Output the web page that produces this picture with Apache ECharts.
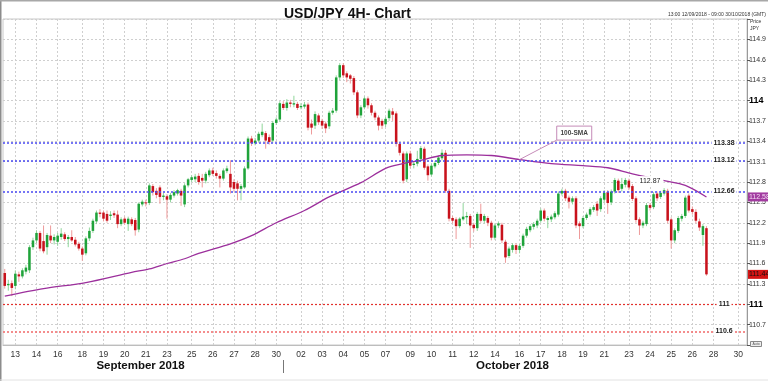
<!DOCTYPE html>
<html><head><meta charset="utf-8">
<script src="https://cdn.jsdelivr.net/npm/echarts@6/dist/echarts.min.js"></script>
<style>html,body{margin:0;padding:0;background:#fff}#c{width:768px;height:381px}</style>
</head><body><div id="c"></div>
<script>
// ---- axis schedule: trading days and number of 4H bars in each ----
const DAYS = [['09-12',3],['09-13',6],['09-14',6],['09-16',1],['09-17',6],['09-18',6],['09-19',6],['09-20',6],['09-21',6],
  ['09-23',1],['09-24',6],['09-25',6],['09-26',6],['09-27',6],['09-28',6],['09-30',1],
  ['10-01',6],['10-02',6],['10-03',6],['10-04',6],['10-05',6],['10-07',1],['10-08',6],['10-09',6],['10-10',6],['10-11',6],['10-12',6],
  ['10-14',1],['10-15',6],['10-16',6],['10-17',6],['10-18',6],['10-19',6],['10-21',1],['10-22',6],['10-23',6],['10-24',6],['10-25',6],['10-26',6],
  ['10-28',1],['10-29',6],['10-30',3]];
const HIDDEN_TICK_DAYS = ['09-12','09-17','09-24','10-01','10-08','10-15','10-22','10-29'];
const MONTHS = [['09','September 2018'],['10','October 2018']];

// ---- price data (4H candles) ----
const OPEN = [
111.46,111.28,111.31,111.27,111.44,111.41,111.48,111.50,111.84,111.94,
112.05,111.93,111.84,112.01,111.94,111.92,111.99,112.03,111.96,111.99,
111.95,111.89,111.82,111.75,111.97,112.08,112.22,112.35,112.35,112.33,
112.30,112.34,112.32,112.18,112.26,112.18,112.25,112.24,112.10,112.47,
112.50,112.49,112.74,112.67,112.72,112.58,112.59,112.54,112.60,112.63,
112.67,112.47,112.75,112.83,112.84,112.89,112.86,112.82,112.90,112.97,
112.93,112.89,112.85,112.96,112.92,112.80,112.78,112.70,112.72,113.00,
113.44,113.37,113.41,113.49,113.52,113.46,113.41,113.67,113.72,113.95,
113.89,113.97,113.94,113.95,113.90,113.91,113.94,113.66,113.63,113.78,
113.70,113.66,113.62,113.82,113.85,114.34,114.52,114.40,114.37,114.33,
114.12,113.78,113.90,114.03,113.93,113.82,113.75,113.70,113.65,113.74,
113.84,113.81,113.36,113.22,112.84,113.22,113.05,113.07,113.14,113.29,
113.03,112.91,113.03,113.08,113.15,113.23,112.67,112.27,112.25,112.15,
112.25,112.28,112.30,112.17,112.12,112.33,112.23,112.27,112.20,111.98,
112.16,112.17,111.92,111.71,111.80,111.87,111.80,111.86,112.01,112.09,
112.14,112.16,112.23,112.38,112.24,112.25,112.28,112.32,112.63,112.67,
112.57,112.51,112.56,112.19,112.15,112.27,112.32,112.39,112.48,112.40,
112.54,112.65,112.50,112.66,112.82,112.70,112.76,112.82,112.74,112.56,
112.25,112.16,112.18,112.46,112.43,112.63,112.58,112.63,112.67,112.25,
111.94,112.08,112.26,112.30,112.60,112.40,112.36,112.22,112.02,112.12];
const CLOSE = [
111.27,111.30,111.24,111.45,111.41,111.50,111.54,111.84,111.94,112.05,
111.82,111.78,112.02,111.94,111.99,112.01,112.04,111.96,111.99,111.94,
111.88,111.82,111.73,111.97,112.08,112.23,112.35,112.33,112.26,112.23,
112.32,112.31,112.18,112.25,112.20,112.26,112.18,112.09,112.48,112.51,
112.49,112.75,112.65,112.61,112.58,112.60,112.54,112.61,112.65,112.68,
112.60,112.75,112.84,112.87,112.88,112.80,112.82,112.92,112.97,112.92,
112.89,112.85,112.97,113.00,112.72,112.70,112.70,112.74,113.00,113.44,
113.37,113.41,113.51,113.54,113.41,113.39,113.67,113.72,113.96,113.89,
113.97,113.95,113.96,113.89,113.92,113.94,113.60,113.60,113.80,113.68,
113.63,113.59,113.82,113.85,114.34,114.52,114.37,114.34,114.32,114.12,
113.78,113.90,114.03,113.93,113.82,113.75,113.63,113.63,113.73,113.85,
113.79,113.36,113.23,112.82,113.22,113.04,113.07,113.14,113.30,113.01,
112.90,113.04,113.08,113.16,113.23,112.67,112.26,112.23,112.15,112.26,
112.29,112.30,112.16,112.12,112.33,112.23,112.30,112.20,111.98,112.16,
112.19,111.94,111.69,111.82,111.87,111.80,111.86,112.01,112.11,112.15,
112.18,112.23,112.38,112.26,112.27,112.29,112.34,112.63,112.67,112.56,
112.51,112.56,112.16,112.15,112.27,112.32,112.40,112.43,112.38,112.56,
112.64,112.49,112.66,112.83,112.68,112.77,112.83,112.72,112.55,112.24,
112.16,112.20,112.46,112.42,112.62,112.56,112.64,112.68,112.23,111.94,
112.09,112.27,112.30,112.57,112.38,112.36,112.23,112.13,112.15,111.44];
const LOW = [
111.23,111.20,111.12,111.22,111.33,111.38,111.44,111.46,111.80,111.90,
111.78,111.75,111.73,111.90,111.88,111.86,111.95,111.93,111.84,111.92,
111.85,111.79,111.64,111.72,111.93,112.05,112.18,112.28,112.22,112.20,
112.24,112.27,112.12,112.15,112.17,112.08,112.15,112.01,112.06,112.44,
112.44,112.46,112.60,112.56,112.48,112.53,112.26,112.50,112.57,112.60,
112.45,112.43,112.72,112.80,112.80,112.76,112.72,112.78,112.87,112.89,
112.85,112.72,112.82,112.93,112.63,112.66,112.53,112.53,112.70,112.98,
113.33,113.34,113.38,113.46,113.29,113.35,113.38,113.64,113.69,113.86,
113.85,113.90,113.90,113.86,113.87,113.88,113.56,113.50,113.58,113.64,
113.58,113.52,113.58,113.79,113.82,114.30,114.33,114.27,114.25,114.08,
113.74,113.74,113.87,113.88,113.78,113.71,113.56,113.58,113.61,113.70,
113.70,113.32,113.19,112.78,112.80,113.00,113.00,113.03,113.10,112.98,
112.82,112.88,113.00,113.05,113.12,112.64,112.22,112.19,111.96,112.12,
112.23,112.18,111.83,112.07,112.08,112.20,112.19,112.15,111.94,111.95,
112.12,111.90,111.61,111.68,111.76,111.74,111.75,111.83,111.98,112.06,
112.10,112.12,112.20,112.22,112.12,112.21,112.25,112.29,112.60,112.52,
112.41,112.47,112.12,111.96,112.12,112.24,112.29,112.36,112.30,112.36,
112.50,112.33,112.46,112.63,112.64,112.66,112.72,112.68,112.52,112.20,
112.02,112.12,112.15,112.38,112.40,112.52,112.55,112.60,112.19,111.82,
111.90,112.05,112.22,112.27,112.35,112.32,112.19,112.08,111.86,111.42];
const HIGH = [
111.52,111.36,111.35,111.50,111.48,111.53,111.58,111.87,111.98,112.09,
112.08,112.16,112.05,112.16,112.03,112.05,112.12,112.06,112.02,112.09,
111.99,111.92,111.85,112.00,112.13,112.26,112.38,112.40,112.38,112.38,
112.37,112.38,112.38,112.28,112.29,112.29,112.28,112.27,112.50,112.54,
112.54,112.78,112.77,112.71,112.75,112.64,112.62,112.64,112.68,112.70,
112.70,112.78,112.86,112.90,112.92,112.93,112.92,112.95,113.00,113.01,
112.97,112.92,113.00,113.04,113.12,112.84,112.82,112.77,113.03,113.47,
113.48,113.45,113.54,113.66,113.55,113.50,113.70,113.75,113.99,113.99,
114.02,114.01,114.07,113.98,113.96,113.98,113.97,113.72,113.84,113.81,
113.73,113.69,113.85,113.89,114.37,114.55,114.55,114.43,114.39,114.36,
114.15,113.93,114.06,114.06,113.96,113.85,113.78,113.73,113.76,113.88,
113.89,113.84,113.39,113.25,113.25,113.26,113.10,113.26,113.33,113.32,
113.06,113.07,113.11,113.19,113.28,113.27,112.70,112.30,112.28,112.28,
112.49,112.36,112.33,112.20,112.36,112.48,112.33,112.30,112.23,112.19,
112.22,112.20,111.95,111.85,111.90,111.90,111.89,112.04,112.14,112.18,
112.21,112.26,112.41,112.41,112.30,112.32,112.37,112.66,112.70,112.70,
112.60,112.59,112.59,112.22,112.30,112.35,112.43,112.46,112.52,112.59,
112.68,112.68,112.69,112.86,112.85,112.86,112.86,112.85,112.77,112.59,
112.28,112.23,112.49,112.49,112.65,112.66,112.67,112.71,112.70,112.28,
112.12,112.30,112.33,112.60,112.63,112.44,112.40,112.26,112.18,112.15];

// 100-SMA values read at bar index positions
const SMA_POINTS = [[0,111.12],[11,111.23],[23,111.32],[36,111.47],[41,111.52],[46,111.60],[51,111.67],[55,111.75],
  [64,111.89],[70,112.01],[77,112.20],[85,112.38],[92,112.58],[101,112.79],[108,113.00],[113,113.07],[118,113.12],
  [124,113.19],[131,113.20],[138,113.19],[146,113.13],[155,113.07],[164,113.04],[171,113.01],[178,112.92],
  [187,112.82],[193,112.75],[199,112.58]];

// horizontal levels
const LEVELS = [113.38, 113.12, 112.66, 111, 110.6];
const LEVEL_TEXT = ['113.38','113.12','112.66','111','110.6'];
const LEVEL_KIND = ['res','res','res','sup','sup2'];
const TAGS = [[112.58,'112.58','sma'],[111.44,'111.44','last']];
const NOTE_HIGH = {bar:183, value:112.82, text:'112.87'};
const CALLOUT = {text:'100-SMA', bar:161, value:113.52, anchorBar:146, anchorValue:113.13};

const Y_MIN = 110.4, Y_MAX = 115.2, Y_STEP = 0.3;
const FONT = '"Liberation Sans", Arial, sans-serif';

const categories = [];
DAYS.forEach(([d,n]) => { for (let k = 0; k < n; k++) categories.push(d + '|' + k); });
const isTick = (i, v) => v.endsWith('|0') && HIDDEN_TICK_DAYS.indexOf(v.split('|')[0]) < 0;
const candles = OPEN.map((o, i) => [i, o, CLOSE[i], LOW[i], HIGH[i]]);
const smaData = categories.map(() => null);
SMA_POINTS.forEach(([i, v]) => { smaData[i] = v; });

const LEVEL_STYLES = {
  res: {color:'#4a4af2', type:[2,2], width:1.5},
  sup: {color:'#e2302c', type:[2,2], width:1.2},
  sup2:{color:'#f27272', type:[2,2], width:1.6}
};

function renderCandle(params, api) {
  const i = api.value(0), o = api.value(1), c = api.value(2), l = api.value(3), h = api.value(4);
  const pO = api.coord([i, o]), pC = api.coord([i, c]), pL = api.coord([i, l]), pH = api.coord([i, h]);
  const w = api.size([1, 0])[0] * 0.72;
  const up = c >= o;
  const top = Math.min(pO[1], pC[1]), bot = Math.max(pO[1], pC[1]);
  const xc = pO[0];
  return {type:'group', children:[
    {type:'line', shape:{x1:xc, y1:pH[1], x2:xc, y2:pL[1]}, style:{stroke: up ? '#8fd69a' : '#ee9a9a', lineWidth:1}},
    {type:'rect', shape:{x:xc - w/2, y:top, width:w, height:Math.max(bot - top, 1)}, style:{fill: up ? '#1fa33a' : '#c8121c'}}
  ]};
}

const option = {
  animation:false,
  textStyle:{fontFamily:FONT},
  title:{text:'USD/JPY 4H- Chart', left:279, top:2, textStyle:{fontSize:14, fontWeight:'bold', color:'#111', fontFamily:FONT}},
  grid:{left:3, right:21, top:19, bottom:36, show:true, borderColor:'#c8c8c8', borderWidth:1, containLabel:false, outerBoundsMode:'none'},
  xAxis:{type:'category', data:categories, boundaryGap:true,
    axisLine:{lineStyle:{color:'#bdbdbd'}}, axisTick:{show:false},
    axisLabel:{interval:isTick, formatter:v => v.slice(3,5), color:'#333', fontSize:8.5, margin:5, fontFamily:FONT},
    splitLine:{show:true, interval:isTick, alignWithLabel:true, lineStyle:{color:'#cfcfcf', type:[2,2], width:1}}
  },
  yAxis:{type:'value', position:'right', min:Y_MIN, max:Y_MAX, interval:Y_STEP,
    axisLine:{show:true, lineStyle:{color:'#9a9a9a'}},
    axisTick:{show:true, length:3, lineStyle:{color:'#555'}},
    axisLabel:{margin:2, color:'#333', fontSize:7, fontFamily:FONT,
      formatter:v => {
        if (v <= Y_MIN + 1e-6 || v >= Y_MAX - 1e-6) return '';
        const r = Math.round(v);
        if (Math.abs(v - r) < 1e-6) return '{b|' + r + '}';
        return '{n|' + v.toFixed(1) + '}';
      },
      rich:{b:{fontSize:9, fontWeight:'bold', color:'#000', fontFamily:FONT}, n:{fontSize:7, color:'#333', fontFamily:FONT}}
    },
    splitLine:{show:true, lineStyle:{color:'#cfcfcf', type:[2,2], width:1}}
  },
  series:[
    {type:'custom', name:'USDJPY', renderItem:renderCandle, data:candles,
      encode:{x:0, y:[1,2,3,4]}, z:2, silent:true},
    {type:'line', name:'100-SMA', data:smaData, connectNulls:true, showSymbol:false, smooth:0.3,
      lineStyle:{color:'#9c2f9c', width:1.3}, z:4, silent:true,
      markLine:{silent:true, symbol:['none','none'], label:{show:false}, emphasis:{disabled:true},
        data:LEVELS.map((v, k) => ({yAxis:v, lineStyle:LEVEL_STYLES[LEVEL_KIND[k]]}))}
    }
  ]
};

const chart = echarts.init(document.getElementById('c'));
chart.setOption(option);

const toPx = (i, v) => chart.convertToPixel({gridIndex:0}, [i, v]);
const xAt = i => toPx(i, Y_MIN)[0];
const yAt = v => toPx(0, v)[1];
const band = xAt(1) - xAt(0);
const gRight = 768 - 21;

const g = [];
// level labels
LEVELS.forEach((v, k) => {
  g.push({type:'text', x:xAt(204), y:yAt(v), z:50,
    style:{text:LEVEL_TEXT[k], font:'bold 7px ' + FONT, fill:'#1a1a1a', align:'center', verticalAlign:'middle',
      backgroundColor:'#fff', padding:[1,2]}});
});
// right-side price tags
TAGS.forEach(([v, t, kind]) => {
  const y = yAt(v);
  g.push({type:'rect', shape:{x:gRight + 1, y:y - 4.5, width:21, height:9}, z:50,
    style:{fill: kind === 'sma' ? '#a23ba0' : '#d41414'}});
  g.push({type:'text', x:gRight + 2, y:y, z:51,
    style:{text:t, font:'7px ' + FONT, fill: kind === 'sma' ? '#f4dcf4' : '#111', align:'left', verticalAlign:'middle'}});
});
// 112.87 note on SMA
g.push({type:'text', x:xAt(NOTE_HIGH.bar), y:yAt(NOTE_HIGH.value), z:50,
  style:{text:NOTE_HIGH.text, font:'7px ' + FONT, fill:'#222', align:'center', verticalAlign:'middle', backgroundColor:'#fff', padding:[1,3]}});
// 100-SMA callout
{
  const cx = xAt(CALLOUT.bar) + band / 2, cy = yAt(CALLOUT.value);
  const bw = 35, bh = 14;
  const ax = xAt(CALLOUT.anchorBar), ay = yAt(CALLOUT.anchorValue);
  g.push({type:'line', shape:{x1:ax, y1:ay, x2:cx - bw/2, y2:cy + bh/2}, z:49, style:{stroke:'#c58bb8', lineWidth:1}});
  g.push({type:'rect', shape:{x:cx - bw/2, y:cy - bh/2, width:bw, height:bh}, z:50,
    style:{fill:'#fff', stroke:'#c58bb8', lineWidth:1}});
  g.push({type:'text', x:cx, y:cy, z:51,
    style:{text:CALLOUT.text, font:'bold 6.5px ' + FONT, fill:'#444', align:'center', verticalAlign:'middle'}});
}
// month labels and separator
MONTHS.forEach(([m, name]) => {
  const idx = categories.map((c, i) => c.startsWith(m + '-') ? i : -1).filter(i => i >= 0);
  const cx = (xAt(idx[0]) + xAt(idx[idx.length - 1])) / 2;
  g.push({type:'text', x:cx, y:366, style:{text:name, font:'bold 11.5px ' + FONT, fill:'#111', align:'center', verticalAlign:'middle'}});
});
{
  const firstOct = categories.findIndex(c => c.startsWith('10-'));
  const sx = Math.round(xAt(firstOct + 1)) + 0.5;
  g.push({type:'line', shape:{x1:sx, y1:360, x2:sx, y2:373}, style:{stroke:'#777', lineWidth:1}});
}
// header texts
g.push({type:'text', x:766, y:15, style:{text:'13:00 12/09/2018 - 09:00 30/10/2018 (GMT)', font:'5px ' + FONT, fill:'#333', align:'right', verticalAlign:'middle'}});
g.push({type:'text', x:750, y:22, style:{text:'Price', font:'5px ' + FONT, fill:'#333', align:'left', verticalAlign:'middle'}});
g.push({type:'text', x:750, y:29, style:{text:'JPY', font:'5px ' + FONT, fill:'#333', align:'left', verticalAlign:'middle'}});
// tiny "Auto" box
g.push({type:'rect', shape:{x:750.5, y:341.5, width:11, height:5}, style:{fill:'#eee', stroke:'#888', lineWidth:1}});
g.push({type:'text', x:756, y:344, style:{text:'Auto', font:'3.5px ' + FONT, fill:'#555', align:'center', verticalAlign:'middle'}});
// outer frame
g.push({type:'line', shape:{x1:0.75, y1:0, x2:0.75, y2:381}, style:{stroke:'#8c8c8c', lineWidth:1.5}});
g.push({type:'line', shape:{x1:0, y1:0.75, x2:768, y2:0.75}, style:{stroke:'#a8a8a8', lineWidth:1.5}});
g.push({type:'line', shape:{x1:0, y1:380, x2:768, y2:380}, style:{stroke:'#e2e2e2', lineWidth:1}});

chart.setOption({graphic:g});
</script>
</body></html>
